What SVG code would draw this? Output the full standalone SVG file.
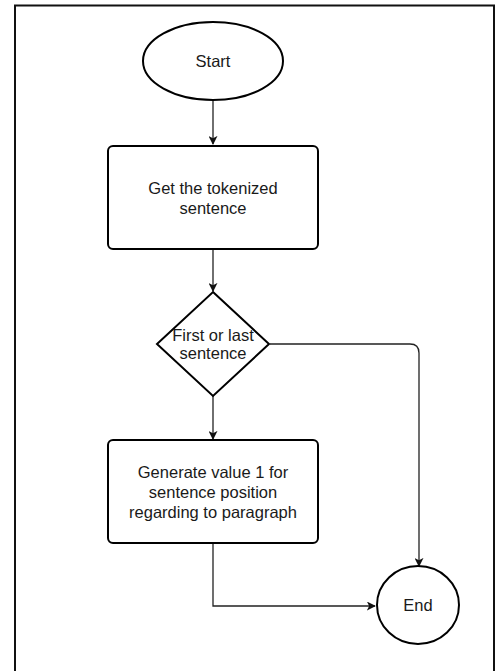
<svg xmlns="http://www.w3.org/2000/svg" width="497" height="671" viewBox="0 0 497 671">
  <style>
    .shape { fill: #ffffff; stroke: #000000; stroke-width: 2; }
    .edge { fill: none; stroke: #222222; stroke-width: 1.3; }
    .label { font-family: "Liberation Sans", Arial, sans-serif; font-size: 16.5px; fill: #1a1a1a; text-anchor: middle; }
  </style>
  <defs>
    <marker id="arrow" viewBox="0 0 10 10" refX="9" refY="5" markerWidth="9" markerHeight="9" markerUnits="userSpaceOnUse" orient="auto">
      <path d="M0,0 L10,5 L0,10 L2.5,5 Z" fill="#111111"/>
    </marker>
  </defs>

  <!-- page background and frame -->
  <rect x="0" y="0" width="497" height="671" fill="#ffffff"/>
  <path d="M15,671 V5.5 H494 V671" fill="none" stroke="#111111" stroke-width="2"/>

  <!-- connectors -->
  <g id="connectors">
    <path class="edge" d="M213,100 V144" marker-end="url(#arrow)"/>
    <path class="edge" d="M213,250 V291" marker-end="url(#arrow)"/>
    <path class="edge" d="M213,396 V439" marker-end="url(#arrow)"/>
    <path class="edge" d="M270,344 H410 Q419,344 419,353 V566" marker-end="url(#arrow)"/>
    <path class="edge" d="M213,544 V606 H375" marker-end="url(#arrow)"/>
  </g>

  <g id="start">
    <ellipse class="shape" cx="213" cy="61" rx="70" ry="39"/>
    <text class="label" x="213" y="67">Start</text>
  </g>

  <g id="tokenize">
    <rect class="shape" x="108" y="146" width="210" height="103" rx="5"/>
    <text class="label" x="213" y="194">Get the tokenized</text>
    <text class="label" x="213" y="214">sentence</text>
  </g>

  <g id="decision">
    <polygon class="shape" points="213,292 269,344 213,396 157,344"/>
    <text class="label" x="213" y="341">First or last</text>
    <text class="label" x="213" y="359">sentence</text>
  </g>

  <g id="generate">
    <rect class="shape" x="108" y="440" width="210" height="103" rx="5"/>
    <text class="label" x="213" y="478">Generate value 1 for</text>
    <text class="label" x="213" y="498">sentence position</text>
    <text class="label" x="213" y="518">regarding to paragraph</text>
  </g>

  <g id="end">
    <ellipse class="shape" cx="418" cy="605" rx="41" ry="39"/>
    <text class="label" x="418" y="611">End</text>
  </g>
</svg>
